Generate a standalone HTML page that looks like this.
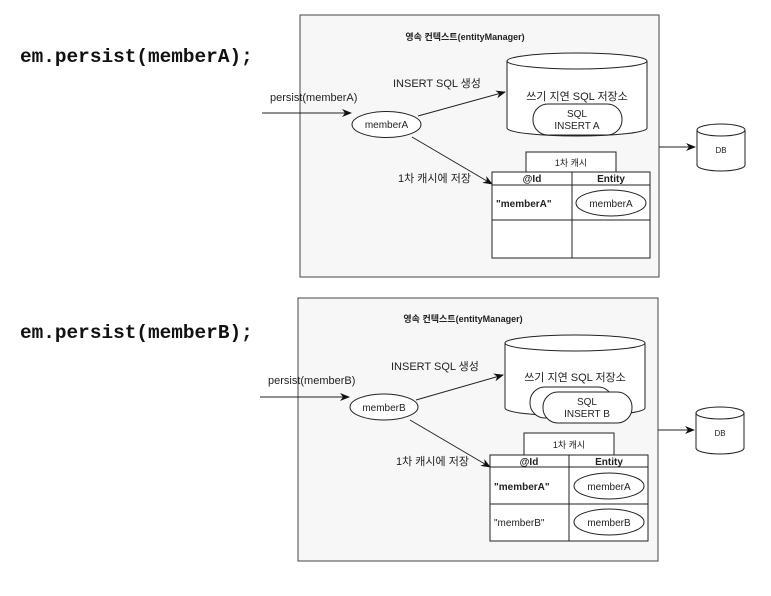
<!DOCTYPE html>
<html><head><meta charset="utf-8"><style>
html,body{margin:0;padding:0;background:#fff;width:771px;height:596px;overflow:hidden}
svg{display:block}
text{font-family:"Liberation Sans","Noto Sans CJK KR",sans-serif;fill:#222}
.code{font-family:"Liberation Mono",monospace;font-weight:bold;font-size:19.4px;fill:#111}
</style></head><body>
<svg width="771" height="596" viewBox="0 0 771 596" xmlns="http://www.w3.org/2000/svg">
<defs>
<marker id="ar" markerWidth="10" markerHeight="8" refX="9" refY="4" orient="auto" markerUnits="userSpaceOnUse">
<path d="M0,0 L10,4 L0,8 L3,4 z" fill="#111"/></marker>
</defs>
<g stroke="#222" stroke-width="1" fill="none">
<rect x="300" y="15" width="359" height="262" fill="#f7f7f7" stroke="#444"/>
<path d="M507,61 L507,128 A70,8 0 0 0 647,128 L647,61" fill="#fff"/>
<ellipse cx="577" cy="61" rx="70" ry="8" fill="#fff"/>
<rect x="533" y="104" width="89" height="31" rx="15" fill="#fff"/>
<ellipse cx="386.5" cy="124.5" rx="34.5" ry="13" fill="#fff"/>
<line x1="262" y1="113" x2="351" y2="113" marker-end="url(#ar)"/>
<line x1="418" y1="116" x2="505" y2="92" marker-end="url(#ar)"/>
<line x1="412" y1="137" x2="492" y2="184" marker-end="url(#ar)"/>
<rect x="526" y="152" width="90" height="20" fill="#fff"/>
<rect x="492" y="172" width="158" height="86" fill="#fff"/>
<line x1="492" y1="185" x2="650" y2="185"/>
<line x1="492" y1="220" x2="650" y2="220"/>
<line x1="572" y1="172" x2="572" y2="258"/>
<ellipse cx="611" cy="203" rx="35" ry="13" fill="#fff"/>
<line x1="659" y1="147" x2="695" y2="147" marker-end="url(#ar)"/>
<path d="M697,130 L697,165 A24,6 0 0 0 745,165 L745,130" fill="#fff"/>
<ellipse cx="721" cy="130" rx="24" ry="6" fill="#fff"/>
<rect x="298" y="298" width="360" height="263" fill="#f7f7f7" stroke="#444"/>
<path d="M505,343 L505,408 A70,8 0 0 0 645,408 L645,343" fill="#fff"/>
<ellipse cx="575" cy="343" rx="70" ry="8" fill="#fff"/>
<rect x="530" y="387" width="83" height="31" rx="15" fill="#fff"/>
<rect x="543" y="392" width="89" height="31" rx="15" fill="#fff"/>
<ellipse cx="384" cy="407" rx="34" ry="13" fill="#fff"/>
<line x1="260" y1="397" x2="349" y2="397" marker-end="url(#ar)"/>
<line x1="416" y1="400" x2="503" y2="375" marker-end="url(#ar)"/>
<line x1="410" y1="420" x2="490" y2="467" marker-end="url(#ar)"/>
<rect x="524" y="433" width="90" height="22" fill="#fff"/>
<rect x="490" y="455" width="158" height="86" fill="#fff"/>
<line x1="490" y1="467" x2="648" y2="467"/>
<line x1="490" y1="504" x2="648" y2="504"/>
<line x1="569" y1="455" x2="569" y2="541"/>
<ellipse cx="609" cy="486" rx="35" ry="13" fill="#fff"/>
<ellipse cx="609" cy="522" rx="35" ry="13" fill="#fff"/>
<line x1="658" y1="430" x2="694" y2="430" marker-end="url(#ar)"/>
<path d="M696,413 L696,448 A24,6 0 0 0 744,448 L744,413" fill="#fff"/>
<ellipse cx="720" cy="413" rx="24" ry="6" fill="#fff"/>
</g>
<text class="code" x="20" y="62">em.persist(memberA);</text>
<text x="465" y="40" font-size="9" font-weight="bold" text-anchor="middle">영속 컨텍스트(entityManager)</text>
<text x="393" y="87" font-size="11">INSERT SQL 생성</text>
<text x="270" y="101" font-size="11">persist(memberA)</text>
<text x="577" y="100" font-size="11" text-anchor="middle">쓰기 지연 SQL 저장소</text>
<text x="577" y="117" font-size="10" text-anchor="middle">SQL</text>
<text x="577" y="129" font-size="10" text-anchor="middle">INSERT A</text>
<text x="386.5" y="128" font-size="10" text-anchor="middle">memberA</text>
<text x="398" y="182" font-size="11">1차 캐시에 저장</text>
<text x="571" y="166" font-size="9" text-anchor="middle">1차 캐시</text>
<text x="532" y="182" font-size="10" font-weight="bold" text-anchor="middle">@Id</text>
<text x="611" y="182" font-size="10" font-weight="bold" text-anchor="middle">Entity</text>
<text x="496" y="207" font-size="10" font-weight="bold">"memberA"</text>
<text x="611" y="207" font-size="10" text-anchor="middle">memberA</text>
<text x="721" y="153" font-size="8" text-anchor="middle">DB</text>
<text class="code" x="20" y="338">em.persist(memberB);</text>
<text x="463" y="322" font-size="9" font-weight="bold" text-anchor="middle">영속 컨텍스트(entityManager)</text>
<text x="391" y="370" font-size="11">INSERT SQL 생성</text>
<text x="268" y="384" font-size="11">persist(memberB)</text>
<text x="575" y="381" font-size="11" text-anchor="middle">쓰기 지연 SQL 저장소</text>
<text x="587" y="405" font-size="10" text-anchor="middle">SQL</text>
<text x="587" y="417" font-size="10" text-anchor="middle">INSERT B</text>
<text x="384" y="411" font-size="10" text-anchor="middle">memberB</text>
<text x="396" y="465" font-size="11">1차 캐시에 저장</text>
<text x="569" y="448" font-size="9" text-anchor="middle">1차 캐시</text>
<text x="529" y="465" font-size="10" font-weight="bold" text-anchor="middle">@Id</text>
<text x="609" y="465" font-size="10" font-weight="bold" text-anchor="middle">Entity</text>
<text x="494" y="490" font-size="10" font-weight="bold">"memberA"</text>
<text x="609" y="490" font-size="10" text-anchor="middle">memberA</text>
<text x="494" y="526" font-size="10">"memberB"</text>
<text x="609" y="526" font-size="10" text-anchor="middle">memberB</text>
<text x="720" y="436" font-size="8" text-anchor="middle">DB</text>
</svg>
</body></html>
